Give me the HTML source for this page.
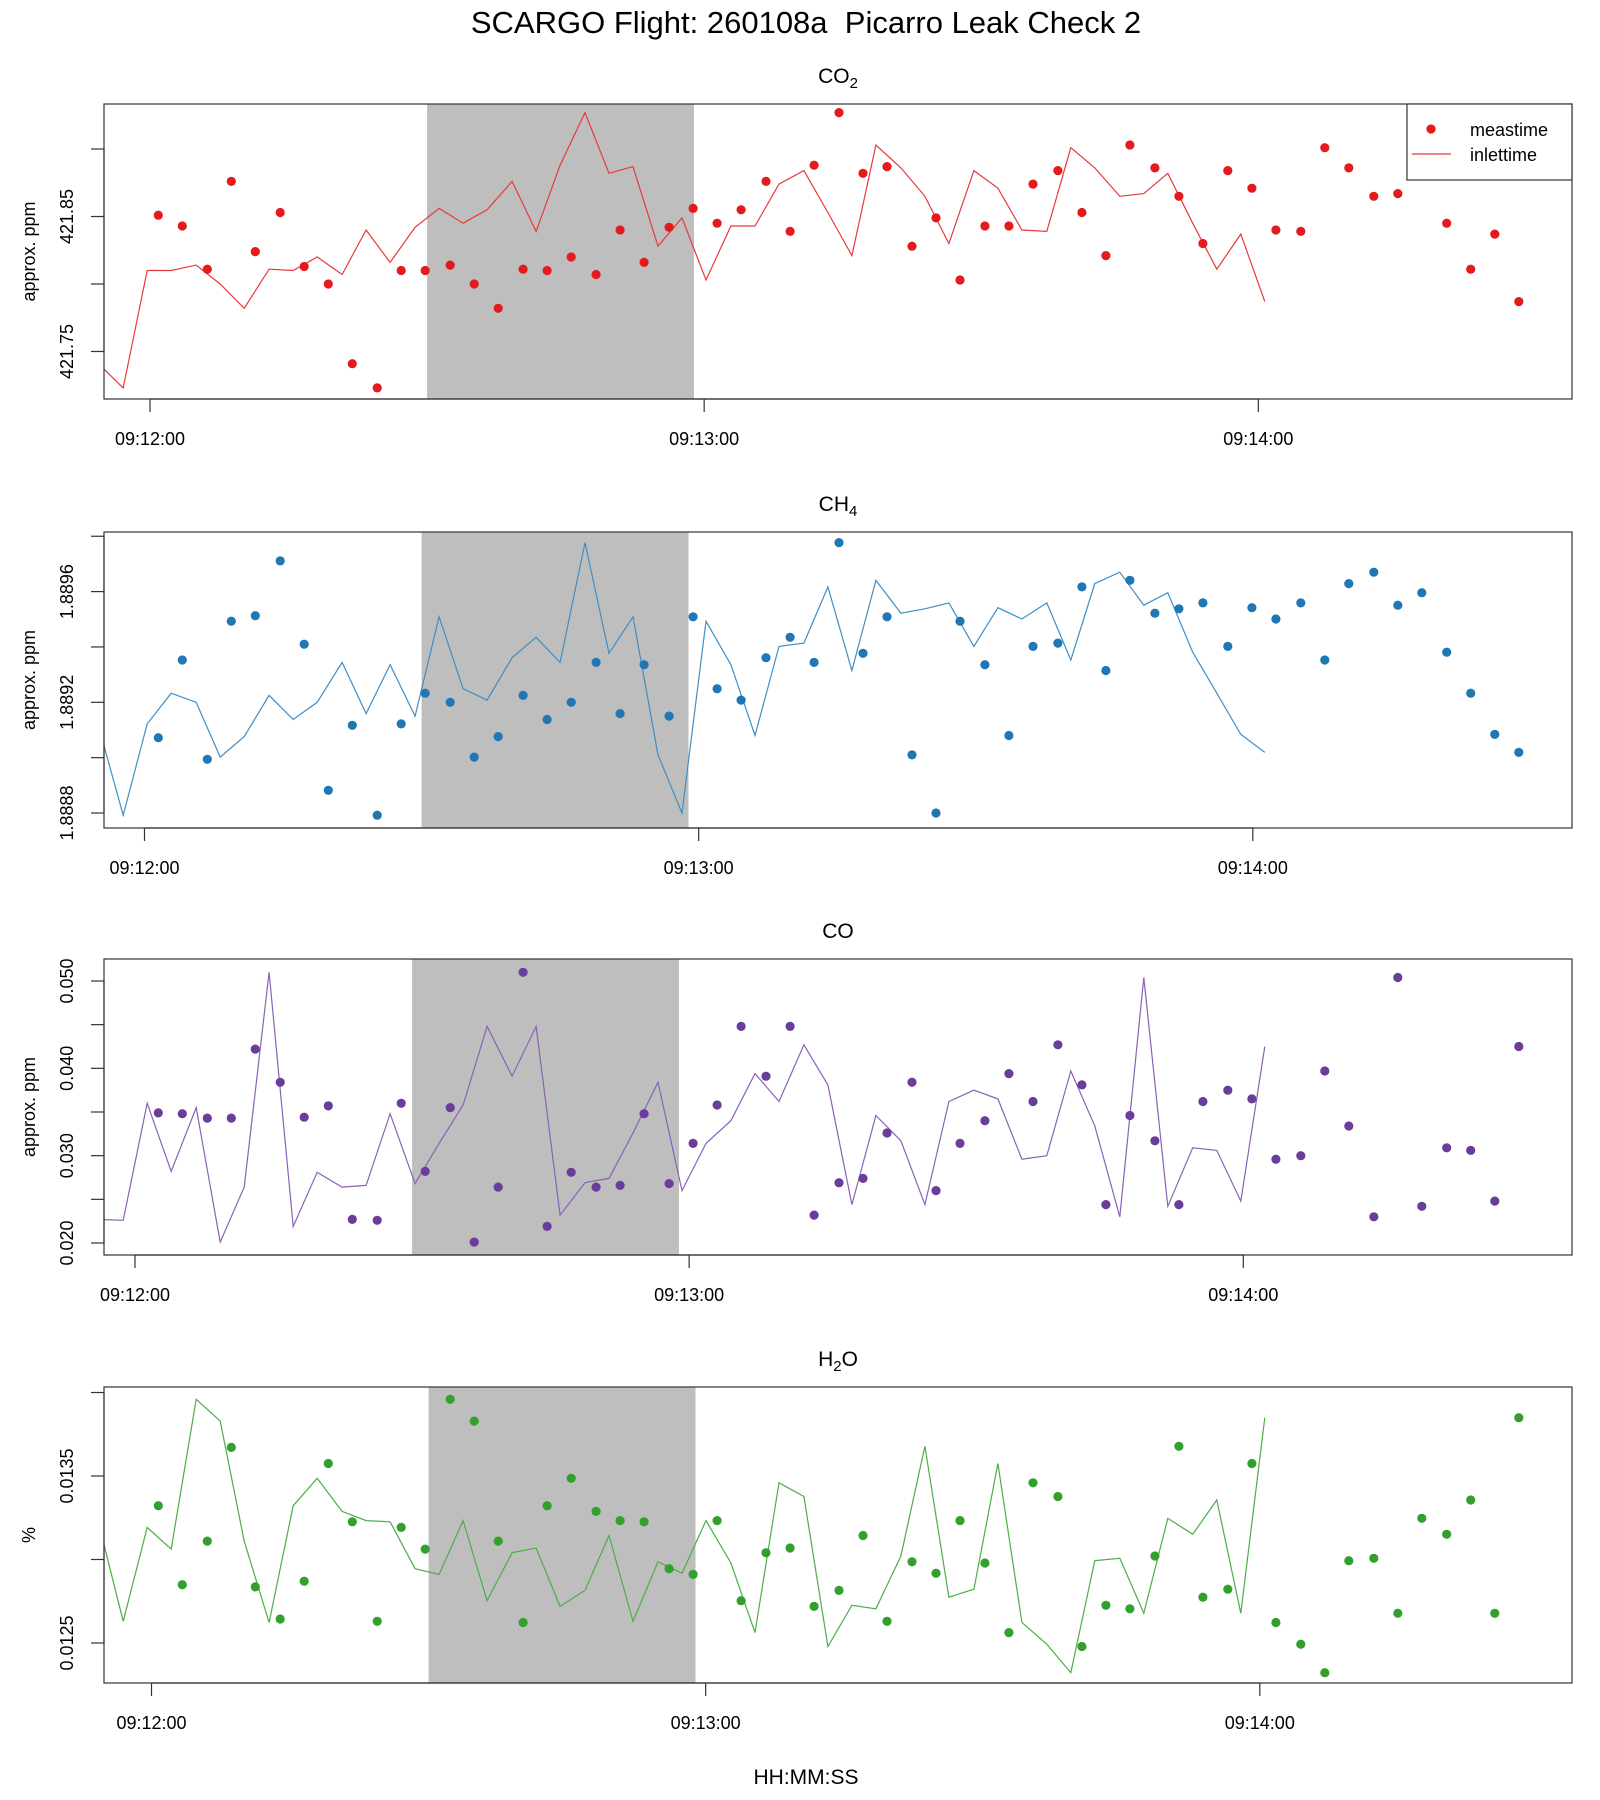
<!DOCTYPE html>
<html><head><meta charset="utf-8"><title>SCARGO Flight 260108a Picarro Leak Check 2</title>
<style>
html,body{margin:0;padding:0;background:#fff;}
svg{display:block;font-family:"Liberation Sans",Arial,sans-serif;}
</style></head>
<body>
<svg id="chart" width="1600" height="1800" viewBox="0 0 1600 1800" xmlns="http://www.w3.org/2000/svg">
<rect x="0" y="0" width="1600" height="1800" fill="#fff"/>
<text x="806" y="33" font-size="31" text-anchor="middle" fill="#000" xml:space="preserve">SCARGO Flight: 260108a&#160; Picarro Leak Check 2</text>
<text x="806" y="1784" font-size="21" text-anchor="middle" fill="#000">HH:MM:SS</text>
</svg>
<script>
// measurement times, seconds after 09:12:00 (shared by all panels)
const measTimes = [0.9,3.5,6.2,8.8,11.4,14.1,16.7,19.3,21.9,24.6,27.2,29.8,32.5,35.1,37.7,40.4,43.0,45.6,48.3,50.9,53.5,56.2,58.8,61.4,64.0,66.7,69.3,71.9,74.6,77.2,79.8,82.5,85.1,87.7,90.4,93.0,95.6,98.3,100.9,103.5,106.1,108.8,111.4,114.0,116.7,119.3,121.9,124.6,127.2,129.8,132.5,135.1,137.7,140.4,143.0,145.6,148.2];
// inlet time lag (seconds) between meastime and inlettime
const inletLag = 27.5;
// leak-check shaded window (seconds after 09:12:00)
const shadeWindow = [30.0, 58.9];
const xTickLabels = ["09:12:00","09:13:00","09:14:00"];
const xTickSeconds = [0, 60, 120];

const co2Values = [421.851,421.843,421.811,421.876,421.824,421.853,421.813,421.800,421.741,421.723,421.810,421.810,421.814,421.800,421.782,421.811,421.810,421.820,421.807,421.840,421.816,421.842,421.856,421.845,421.855,421.876,421.839,421.888,421.927,421.882,421.887,421.828,421.849,421.803,421.843,421.843,421.874,421.884,421.853,421.821,421.903,421.886,421.865,421.830,421.884,421.871,421.840,421.839,421.901,421.886,421.865,421.867,421.882,421.845,421.811,421.837,421.787];
const ch4Values = [1.889072,1.889353,1.888994,1.889493,1.889513,1.889711,1.889410,1.888882,1.889117,1.888792,1.889122,1.889233,1.889200,1.889002,1.889076,1.889225,1.889138,1.889200,1.889344,1.889159,1.889336,1.889150,1.889509,1.889249,1.889208,1.889361,1.889435,1.889344,1.889777,1.889377,1.889509,1.889010,1.888800,1.889493,1.889336,1.889080,1.889402,1.889414,1.889617,1.889315,1.889641,1.889522,1.889538,1.889559,1.889402,1.889542,1.889501,1.889559,1.889353,1.889629,1.889670,1.889551,1.889596,1.889381,1.889233,1.889084,1.889019];
const coValues = [0.0349,0.0348,0.0343,0.0343,0.0422,0.0384,0.0344,0.0357,0.0227,0.0226,0.0360,0.0282,0.0355,0.0201,0.0264,0.0510,0.0219,0.0281,0.0264,0.0266,0.0348,0.0268,0.0314,0.0358,0.0448,0.0391,0.0448,0.0232,0.0269,0.0274,0.0326,0.0384,0.0260,0.0314,0.0340,0.0394,0.0362,0.0427,0.0381,0.0244,0.0346,0.0317,0.0244,0.0362,0.0375,0.0365,0.0296,0.0300,0.0397,0.0334,0.0230,0.0504,0.0242,0.0309,0.0306,0.0248,0.0425];
const h2oValues = [0.013322,0.012849,0.013110,0.013671,0.012836,0.012644,0.012870,0.013575,0.013226,0.012630,0.013192,0.013062,0.013959,0.013829,0.013110,0.012623,0.013322,0.013486,0.013288,0.013233,0.013226,0.012945,0.012911,0.013233,0.012753,0.013041,0.013069,0.012719,0.012815,0.013144,0.012630,0.012986,0.012918,0.013233,0.012979,0.012562,0.013459,0.013377,0.012479,0.012726,0.012705,0.013021,0.013678,0.012774,0.012822,0.013575,0.012623,0.012493,0.012322,0.012993,0.013007,0.012678,0.013247,0.013151,0.013356,0.012678,0.013849];

const co2Ticks = [421.75,421.80,421.85,421.90];
const co2Labels = ["421.75","","421.85",""];
const ch4Ticks = [1.8888,1.8890,1.8892,1.8894,1.8896,1.8898];
const ch4Labels = ["1.8888","","1.8892","","1.8896",""];
const coTicks = [0.020,0.025,0.030,0.035,0.040,0.045,0.050];
const coLabels = ["0.020","","0.030","","0.040","","0.050"];
const h2oTicks = [0.0125,0.0130,0.0135,0.0140];
const h2oLabels = ["0.0125","","0.0135",""];

const NS = "http://www.w3.org/2000/svg";
const svg = document.getElementById('chart');
function mk(tag, attrs, parent){
  const e = document.createElementNS(NS, tag);
  for (const k in attrs) e.setAttribute(k, attrs[k]);
  (parent||svg).appendChild(e);
  return e;
}
const PX_PER_S = 9.236;
const panels = [
  {key:'co2', title:'CO', sub:'2', vals:co2Values, ticks:co2Ticks, labels:co2Labels, ylab:'approx. ppm', color:'#e41a1c', line:'#e8393a',
   top:104, bottom:399, x0:150, v1:421.85, y1:216.5, v2:421.75, y2:351.5, legend:true},
  {key:'ch4', title:'CH', sub:'4', vals:ch4Values, ticks:ch4Ticks, labels:ch4Labels, ylab:'approx. ppm', color:'#1f78b4', line:'#3f8ec4',
   top:532, bottom:828, x0:144.5, v1:1.8896, y1:591.6, v2:1.8888, y2:813},
  {key:'co', title:'CO', sub:'', vals:coValues, ticks:coTicks, labels:coLabels, ylab:'approx. ppm', color:'#6a3d9a', line:'#8a62b8',
   top:959, bottom:1255, x0:135, v1:0.050, y1:981, v2:0.020, y2:1243},
  {key:'h2o', title:'H', sub:'2', tail:'O', vals:h2oValues, ticks:h2oTicks, labels:h2oLabels, ylab:'%', color:'#33a02c', line:'#4cae46',
   top:1387, bottom:1683, x0:151.5, v1:0.0135, y1:1476, v2:0.0125, y2:1643}
];
const LEFT = 104, RIGHT = 1572;

panels.forEach((p, idx) => {
  const g = mk('g', {});
  
  
  const off = (150 - p.x0) / PX_PER_S;
  const xs = t => p.x0 + t * PX_PER_S;
  const ys = v => p.y1 + (v - p.v1) * (p.y2 - p.y1) / (p.v2 - p.v1);

  const clipId = 'clip-' + p.key;
  const cp = mk('clipPath', {id: clipId}, g);
  mk('rect', {x: LEFT, y: p.top, width: RIGHT - LEFT, height: p.bottom - p.top}, cp);

  const sh = mk('rect', {x: xs(shadeWindow[0]), y: p.top, width: xs(shadeWindow[1]) - xs(shadeWindow[0]), height: p.bottom - p.top, fill: '#bebebe'}, g);
  
  

  const pts = p.vals.map((v, i) => xs(measTimes[i] + off - inletLag).toFixed(1) + ',' + ys(v).toFixed(1)).join(' ');
  const pl = mk('polyline', {points: pts, fill: 'none', stroke: p.line, 'stroke-width': 1.2, 'clip-path': 'url(#' + clipId + ')'}, g);
  
  

  p.vals.forEach((v, i) => {
    const c = mk('circle', {cx: xs(measTimes[i] + off).toFixed(1), cy: ys(v).toFixed(1), r: 4.6, fill: p.color}, g);
    
    
  });

  const bx = mk('rect', {x: LEFT, y: p.top, width: RIGHT - LEFT, height: p.bottom - p.top, fill: 'none', stroke: '#333', 'stroke-width': 1.2}, g);
  
  

  const yTickYs = p.ticks.map(ys);
  mk('line', {x1: LEFT, x2: LEFT, y1: Math.min(...yTickYs), y2: Math.max(...yTickYs), stroke: '#333', 'stroke-width': 1.2}, g);
  p.ticks.forEach((tv, i) => {
    const y = ys(tv);
    const tk = mk('line', {x1: LEFT - 13, x2: LEFT, y1: y, y2: y, stroke: '#333', 'stroke-width': 1.2}, g);
    
    
    if (p.labels[i]) {
      const tx = mk('text', {x: 0, y: 0, 'font-size': 18, 'text-anchor': 'middle', transform: 'translate(73,' + y.toFixed(1) + ') rotate(-90)'}, g);
      tx.textContent = p.labels[i];
      
      
    }
  });
  const yl = mk('text', {x: 0, y: 0, 'font-size': 18, 'text-anchor': 'middle', transform: 'translate(35,' + ((p.top + p.bottom) / 2).toFixed(1) + ') rotate(-90)'}, g);
  yl.textContent = p.ylab;
  
  

  const xTickXs = xTickSeconds.map(xs);
  mk('line', {x1: xTickXs[0], x2: xTickXs[xTickXs.length - 1], y1: p.bottom, y2: p.bottom, stroke: '#333', 'stroke-width': 1.2}, g);
  xTickSeconds.forEach((s, i) => {
    const x = xs(s);
    const tk = mk('line', {x1: x, x2: x, y1: p.bottom, y2: p.bottom + 13, stroke: '#333', 'stroke-width': 1.2}, g);
    
    
    const tx = mk('text', {x: x, y: p.bottom + 46, 'font-size': 18, 'text-anchor': 'middle'}, g);
    tx.textContent = xTickLabels[i];
    
    
  });

  const tt = mk('text', {x: 838, y: p.top - 21, 'font-size': 21, 'text-anchor': 'middle'}, g);
  
  
  tt.appendChild(document.createTextNode(p.title));
  if (p.sub) {
    const ts = document.createElementNS(NS, 'tspan');
    ts.setAttribute('font-size', '15');
    ts.setAttribute('dy', '5');
    ts.textContent = p.sub;
    tt.appendChild(ts);
  }
  if (p.tail) {
    const ts2 = document.createElementNS(NS, 'tspan');
    ts2.setAttribute('dy', '-5');
    ts2.textContent = p.tail;
    tt.appendChild(ts2);
  }

  if (p.legend) {
    const lg = mk('g', {}, g);
    
    
    mk('rect', {x: 1407, y: 104, width: 165, height: 76, fill: '#fff', stroke: '#333', 'stroke-width': 1.2}, lg);
    const ld = mk('circle', {cx: 1431, cy: 129, r: 4.6, fill: p.color}, lg);
    
    
    const t1 = mk('text', {x: 1470, y: 136, 'font-size': 18}, lg);
    t1.textContent = 'meastime';
    
    
    const ll = mk('line', {x1: 1412, x2: 1451, y1: 154, y2: 154, stroke: p.line, 'stroke-width': 1.2}, lg);
    
    
    const t2 = mk('text', {x: 1470, y: 161, 'font-size': 18}, lg);
    t2.textContent = 'inlettime';
    
    
  }
});
</script>
</body></html>
